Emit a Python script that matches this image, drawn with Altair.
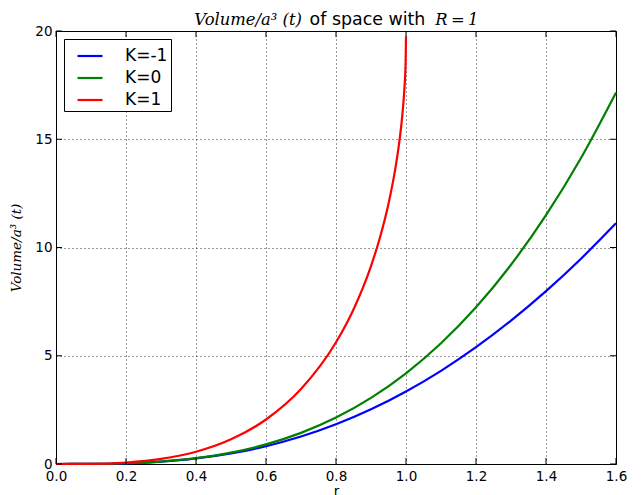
import altair as alt
import pandas as pd

# ---- data ----
r_grid = [0.0, 0.1, 0.2, 0.3, 0.4, 0.5, 0.6, 0.7, 0.8, 0.9, 1.0,
          1.1, 1.2, 1.3, 1.4, 1.5, 1.6]
vol_k_neg = [0.0, 0.004, 0.033, 0.110, 0.256, 0.489, 0.822, 1.268, 1.834, 2.526, 3.348,
             4.304, 5.394, 6.621, 7.984, 9.484, 11.121]
vol_k_zero = [0.0, 0.004, 0.034, 0.113, 0.268, 0.524, 0.905, 1.437, 2.145, 3.054, 4.189,
              5.575, 7.238, 9.203, 11.494, 14.137, 17.157]
r_closed = [0.0, 0.1, 0.2, 0.3, 0.4, 0.5, 0.6, 0.7, 0.8, 0.85, 0.9, 0.925, 0.95,
            0.97, 0.98, 0.99, 0.995, 0.999, 1.0]
vol_k_pos = [0.0, 0.008, 0.068, 0.233, 0.564, 1.138, 2.055, 3.462, 5.621, 7.140, 9.142,
             10.425, 12.021, 13.690, 14.771, 16.206, 17.233, 18.616, 19.739]

series = ["K=-1", "K=0", "K=1"]
colors = ["#0000ff", "#008000", "#ff0000"]
x_ticks = [0.0, 0.2, 0.4, 0.6, 0.8, 1.0, 1.2, 1.4, 1.6]
y_ticks = [0, 5, 10, 15, 20]
title_parts = ["Volume/a\u00b3 (t)", "of space with", "R\u2009=\u20091"]
y_title = "Volume/a\u00b3 (t)"
x_title = "r"

rows = []
for r, v in zip(r_grid, vol_k_neg):
    rows.append({"r": r, "V": v, "K": series[0]})
for r, v in zip(r_grid, vol_k_zero):
    rows.append({"r": r, "V": v, "K": series[1]})
for r, v in zip(r_closed, vol_k_pos):
    rows.append({"r": r, "V": v, "K": series[2]})
df = pd.DataFrame(rows)

W, H = 560, 433

xscale = alt.Scale(domain=[0, 1.6], nice=False, zero=False)
yscale = alt.Scale(domain=[0, 20], nice=False, zero=False)

grid_kw = dict(grid=True, gridColor="black", gridDash=[1, 3], gridWidth=0.8, gridOpacity=1,
               ticks=False, tickSize=0, domain=False, labelFlush=False, labelOverlap=False,
               labelFont="DejaVu Sans", labelFontSize=13.5, labelColor="black")

x_axis = alt.Axis(values=x_ticks, format=".1f", title=x_title, labelPadding=5,
                  titleFont="DejaVu Sans", titleFontSize=13.5, titleFontWeight="normal",
                  titleColor="black", titlePadding=2, **grid_kw)
y_axis = alt.Axis(values=y_ticks, format="d", title=y_title, labelPadding=4,
                  titleFont="DejaVu Serif", titleFontStyle="italic", titleFontWeight="normal",
                  titleFontSize=13.5, titleColor="black", titlePadding=11, **grid_kw)

legend = alt.Legend(title=None, orient="top-left", offset=8, strokeColor="black",
                    fillColor="white", padding=3, cornerRadius=0,
                    symbolType="stroke", symbolSize=625, symbolStrokeWidth=2.2,
                    symbolOffset=9, labelOffset=21, rowPadding=0,
                    labelFont="DejaVu Sans", labelFontSize=17, labelColor="black")

lines = alt.Chart(df).mark_line(strokeWidth=2.2, interpolate="monotone").encode(
    x=alt.X("r:Q", scale=xscale, axis=x_axis),
    y=alt.Y("V:Q", scale=yscale, axis=y_axis),
    color=alt.Color("K:N", scale=alt.Scale(domain=series, range=colors), legend=legend),
)

xt_df = pd.DataFrame({"r": x_ticks})
yt_df = pd.DataFrame({"V": y_ticks})
TL = 6

tick_x_bottom = alt.Chart(xt_df).mark_tick(orient="vertical", size=TL, thickness=1, color="black", opacity=1).encode(
    x=alt.X("r:Q", scale=xscale, axis=x_axis), y=alt.value(H - TL / 2))
tick_x_top = alt.Chart(xt_df).mark_tick(orient="vertical", size=TL, thickness=1, color="black", opacity=1).encode(
    x=alt.X("r:Q", scale=xscale, axis=x_axis), y=alt.value(TL / 2))
tick_y_left = alt.Chart(yt_df).mark_tick(orient="horizontal", size=TL, thickness=1, color="black", opacity=1).encode(
    y=alt.Y("V:Q", scale=yscale, axis=y_axis), x=alt.value(TL / 2))
tick_y_right = alt.Chart(yt_df).mark_tick(orient="horizontal", size=TL, thickness=1, color="black", opacity=1).encode(
    y=alt.Y("V:Q", scale=yscale, axis=y_axis), x=alt.value(W - TL / 2))

t1 = alt.Chart(pd.DataFrame({"s": [title_parts[0]]})).mark_text(
    align="right", baseline="alphabetic", font="DejaVu Serif", fontStyle="italic",
    fontSize=16.4, color="black").encode(text="s:N", x=alt.value(246), y=alt.value(-6))
t2 = alt.Chart(pd.DataFrame({"s": [title_parts[1]]})).mark_text(
    align="left", baseline="alphabetic", font="DejaVu Sans",
    fontSize=17.4, color="black").encode(text="s:N", x=alt.value(253.6), y=alt.value(-6))
t3 = alt.Chart(pd.DataFrame({"s": [title_parts[2]]})).mark_text(
    align="left", baseline="alphabetic", font="DejaVu Serif", fontStyle="italic",
    fontSize=16.4, color="black").encode(text="s:N", x=alt.value(379.3), y=alt.value(-6))

chart = alt.layer(lines, tick_x_bottom, tick_x_top, tick_y_left, tick_y_right, t1, t2, t3).properties(
    width=W, height=H,
    padding={"left": 48, "top": 23, "right": 19, "bottom": 31},
    autosize=alt.AutoSizeParams(type="none"),
).configure_view(stroke="black", strokeWidth=1)

chart.save("out.html", embed_options={"renderer": "svg", "actions": False})
